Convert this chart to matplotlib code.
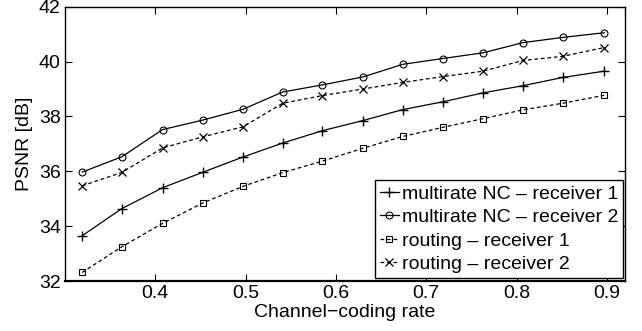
import matplotlib
matplotlib.use("Agg")
import matplotlib.pyplot as plt

rate = [0.319, 0.363, 0.408, 0.453, 0.497, 0.541, 0.585, 0.630, 0.674, 0.718, 0.763, 0.807, 0.851, 0.897]
nc_r1 = [33.65, 34.64, 35.40, 35.97, 36.52, 37.03, 37.48, 37.85, 38.25, 38.53, 38.86, 39.12, 39.42, 39.65]
nc_r2 = [35.97, 36.53, 37.52, 37.87, 38.26, 38.89, 39.15, 39.44, 39.90, 40.11, 40.32, 40.69, 40.88, 41.05]
rt_r1 = [32.31, 33.25, 34.10, 34.85, 35.45, 35.95, 36.37, 36.84, 37.27, 37.60, 37.92, 38.24, 38.48, 38.77]
rt_r2 = [35.47, 35.96, 36.85, 37.26, 37.62, 38.48, 38.76, 39.00, 39.24, 39.45, 39.65, 40.04, 40.19, 40.51]
labels = ["multirate NC \u2013 receiver 1", "multirate NC \u2013 receiver 2",
          "routing \u2013 receiver 1", "routing \u2013 receiver 2"]
xticks = [0.4, 0.5, 0.6, 0.7, 0.8, 0.9]
yticks = [32, 34, 36, 38, 40, 42]

plt.rcParams['font.family'] = ['Liberation Sans', 'DejaVu Sans']

fig = plt.figure(figsize=(6.42, 3.31), dpi=100)
ax = fig.add_axes([65/642, 1-281/331, (625-65)/642, (281-6.7)/331])

lw = 0.9
ax.plot(rate, nc_r1, color='k', lw=lw, marker='+', ms=7.5, mew=1.0, label=labels[0])
ax.plot(rate, nc_r2, color='k', lw=lw, marker='o', ms=5, mfc='none', mew=0.8, label=labels[1])
ax.plot(rate, rt_r1, color='k', lw=lw, ls=(0, (3, 2.2)), marker='s', ms=4, mfc='none', mew=0.8, label=labels[2])
ax.plot(rate, rt_r2, color='k', lw=lw, ls=(0, (3, 2.2)), marker='x', ms=5.5, mew=0.9, label=labels[3])

ax.set_xlim(0.3, 0.92)
ax.set_ylim(32, 42)
ax.set_xticks(xticks)
ax.set_yticks(yticks)
ax.set_xticklabels([f"{t:g}" for t in xticks])
ax.set_yticklabels([str(t) for t in yticks])
ax.tick_params(direction='in', length=5, width=0.8, top=True, right=True, labelsize=14, pad=3)
for s in ax.spines.values():
    s.set_linewidth(1.0)
ax.spines['bottom'].set_linewidth(1.6)

ax.set_xlabel("Channel\u2212coding rate", fontsize=14, labelpad=1.5)
ax.set_ylabel("PSNR [dB]", fontsize=14, labelpad=4)

leg = ax.legend(loc='lower right', bbox_to_anchor=(0.997, 0.011), borderaxespad=0,
                fontsize=14, handlelength=1.0, handletextpad=0.15, labelspacing=0.3,
                borderpad=0.25, fancybox=False, framealpha=1, edgecolor='k')
leg.get_frame().set_linewidth(1.0)

fig.savefig("out.png", dpi=100)
